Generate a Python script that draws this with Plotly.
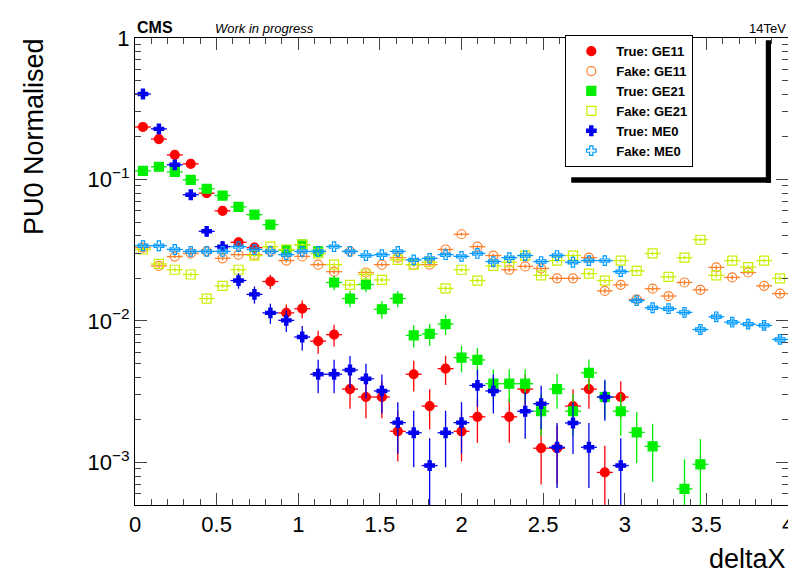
import numpy as np
import plotly.graph_objects as go

# 41 bins over deltaX in [0, 4]
nbins = 41
bin_w = 4.0 / nbins
centers = [(k + 0.5) * bin_w for k in range(nbins)]

true_ge11 = [0.235, 0.193, 0.149, 0.129, 0.080, 0.060, 0.036, 0.033, 0.019, 0.0114,
             0.0122, 0.0072, 0.0080, 0.0033, 0.0029, 0.0029, 0.00166, 0.0042, 0.0025, 0.0046,
             0.00166, 0.0021, None, 0.0021, 0.0033, 0.00126, 0.00126, 0.0025, 0.0033, 0.00085,
             0.0029] + [None] * 10
fake_ge11 = [0.033, 0.0245, 0.0285, 0.030, 0.031, 0.0277, 0.0294, 0.0294, 0.031, 0.0267,
             0.0286, 0.025, 0.0223, 0.031, 0.022, 0.025, 0.028, 0.025, 0.025, 0.032,
             0.041, 0.0335, 0.029, 0.023, 0.0243, 0.0235, 0.020, 0.020, 0.028, 0.0163,
             0.018, 0.0142, 0.0169, 0.015, 0.0187, 0.0166, 0.0239, 0.0203, 0.022, 0.0177,
             0.0156]
true_ge21 = [0.115, 0.123, 0.113, 0.0995, 0.086, 0.077, 0.064, 0.0564, 0.048, 0.0317,
             0.0346, 0.031, 0.0187, 0.0144, 0.0181, 0.0121, 0.0144, 0.0079, 0.0081, 0.0095,
             0.0055, 0.0053, 0.0036, 0.0036, 0.0036, 0.0023, 0.0033, 0.0023, 0.0043, 0.0029,
             0.0023, 0.00163, 0.00130, None, 0.00065, 0.00097] + [None] * 5
fake_ge21 = [0.032, 0.0253, 0.023, 0.0213, 0.0144, 0.0177, 0.023, 0.029, 0.0335, 0.032,
             0.0346, 0.030, 0.025, 0.018, 0.0213, 0.0195, 0.027, 0.025, 0.026, 0.017,
             0.023, 0.0193, 0.0245, 0.026, 0.029, 0.021, 0.0267, 0.029, 0.0216, 0.0193,
             0.0267, 0.0226, 0.030, 0.0205, 0.028, 0.0375, 0.021, 0.0267, 0.024, 0.0267,
             0.020]
true_me0 = [0.402, 0.228, 0.127, 0.078, 0.043, 0.0335, 0.0193, 0.0154, 0.0114, 0.0101,
            0.0077, 0.0042, 0.0042, 0.0045, 0.0039, 0.0032, 0.00191, 0.00162, 0.00095, 0.00162,
            0.00191, 0.0035, 0.0032, None, 0.0023, 0.0026, 0.00128, 0.0019, 0.00128, 0.0029,
            0.00095] + [None] * 10
fake_me0 = [0.034, 0.034, 0.032, 0.031, 0.031, 0.031, 0.0335, 0.032, 0.031, 0.0294,
            0.031, 0.031, 0.0335, 0.031, 0.029, 0.0294, 0.031, 0.027, 0.0277, 0.0294,
            0.0286, 0.030, 0.0263, 0.028, 0.029, 0.0263, 0.029, 0.026, 0.0267, 0.0267,
            0.0223, 0.0139, 0.0124, 0.0122, 0.0115, 0.0087, 0.0107, 0.0098, 0.0095, 0.0093,
            0.0074]

# per-series normalisation (weight per entry) for Poisson-like errors
series = [
    ("True: GE11", true_ge11, "#ff0000", "circle", 0.00025),
    ("Fake: GE11", fake_ge11, "#ff7f2a", "circle-open", 0.00003),
    ("True: GE21", true_ge21, "#00ee00", "square", 0.00025),
    ("Fake: GE21", fake_ge21, "#ccee00", "square-open", 0.00003),
    ("True: ME0", true_me0, "#0000ee", "cross", 0.0003),
    ("Fake: ME0", fake_me0, "#0099ff", "cross-open", 0.00003),
]

font = "Liberation Sans, Arial, sans-serif"
fig = go.Figure()
for name, vals, col, sym, w in series:
    err = [np.sqrt(v * w) if v is not None else None for v in vals]
    fig.add_trace(go.Scatter(
        x=centers, y=vals, mode="markers", name=name,
        marker=dict(color=col, symbol=sym, size=8 if "cross" in sym else 9,
                    line=dict(color=col, width=1.2)),
        error_y=dict(type="data", array=err, color=col, thickness=1.3, width=0),
        error_x=dict(type="constant", value=bin_w / 2, color=col, thickness=1.3, width=0),
    ))

minor_vals = [m * 10.0 ** e for e in range(-4, 0) for m in range(2, 10)]

fig.update_layout(
    width=796, height=572,
    margin=dict(l=127, r=16, t=30, b=75),
    paper_bgcolor="white", plot_bgcolor="white",
    font=dict(family=font, color="black"),
    showlegend=True,
    legend=dict(x=0.659, y=1.006, xanchor="left", yanchor="top",
                bgcolor="white", bordercolor="black", borderwidth=1,
                font=dict(size=13, family=font, weight="bold"),
                itemwidth=40, tracegroupgap=4, entrywidth=150),
    shapes=[
        dict(type="rect", xref="paper", yref="paper", x0=0.966, x1=0.974,
             y0=0.69, y1=0.995, fillcolor="black", line=dict(width=0), layer="below"),
        dict(type="rect", xref="paper", yref="paper", x0=0.668, x1=0.974,
             y0=0.69, y1=0.702, fillcolor="black", line=dict(width=0), layer="below"),
    ],
    xaxis=dict(range=[0, 4], showline=True, linecolor="black", linewidth=1, mirror="ticks",
               ticks="inside", ticklen=12, dtick=0.5, showgrid=False, zeroline=False,
               tickfont=dict(size=22), automargin=False,
               minor=dict(ticks="inside", ticklen=6, dtick=0.1)),
    yaxis=dict(type="log", range=[np.log10(5e-4), 0], showline=True, linecolor="black",
               linewidth=1, mirror="ticks", ticks="inside", ticklen=12, showgrid=False,
               zeroline=False, tickfont=dict(size=22), automargin=False,
               tickvals=[1e-3, 1e-2, 1e-1, 1],
               ticktext=["10<sup>−3</sup>", "10<sup>−2</sup>", "10<sup>−1</sup>", "1"],
               minor=dict(ticks="inside", ticklen=6, showgrid=False, tickvals=minor_vals)),
    annotations=[
        dict(text="deltaX", x=1, y=-0.08, xref="paper", yref="paper", xanchor="right",
             yanchor="top", showarrow=False, font=dict(size=27)),
        dict(text="PU0 Normalised", x=-0.155, y=1.005, xref="paper", yref="paper", xanchor="center",
             yanchor="top", textangle=-90, showarrow=False, font=dict(size=27)),
        dict(text="<b>CMS</b>", x=0, y=1.0, xref="paper", yref="paper", xanchor="left",
             yanchor="bottom", showarrow=False, font=dict(size=16)),
        dict(text="<i>Work in progress</i>", x=0.12, y=1.0, xref="paper", yref="paper",
             xanchor="left", yanchor="bottom", showarrow=False, font=dict(size=13)),
        dict(text="14TeV", x=1, y=1.0, xref="paper", yref="paper", xanchor="right",
             yanchor="bottom", showarrow=False, font=dict(size=13)),
    ],
)

fig.write_html("out.html")
